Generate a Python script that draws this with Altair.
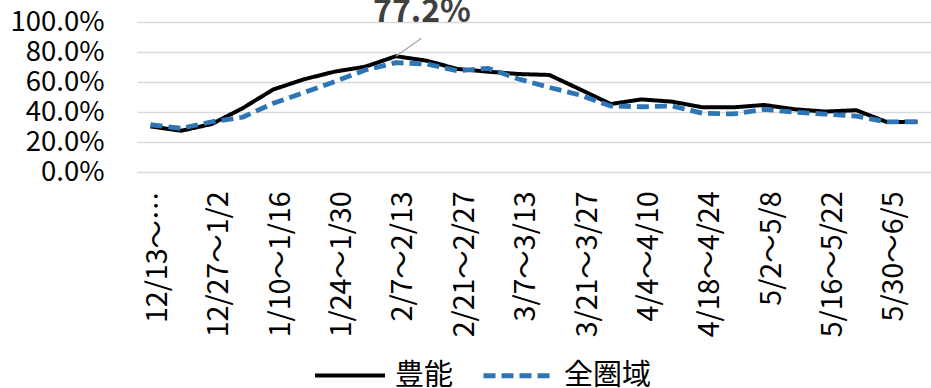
import altair as alt
import pandas as pd

FONT = "Noto Sans CJK JP"

# Tick labels (every other week)
week_ticks = [
    "12/13～…", "12/27～1/2", "1/10～1/16", "1/24～1/30", "2/7～2/13",
    "2/21～2/27", "3/7～3/13", "3/21～3/27", "4/4～4/10", "4/18～4/24",
    "5/2～5/8", "5/16～5/22", "5/30～6/5",
]
rate_ticks = [0.0, 0.2, 0.4, 0.6, 0.8, 1.0]

series_names = ["豊能", "全圏域"]

# Weekly rates, one value per week starting 12/13
toyono = [0.304, 0.275, 0.320, 0.425, 0.550, 0.618, 0.669, 0.702, 0.772, 0.742,
          0.687, 0.669, 0.653, 0.647, 0.551, 0.453, 0.484, 0.469, 0.431, 0.431,
          0.447, 0.418, 0.403, 0.412, 0.333, 0.335]
zenken = [0.315, 0.291, 0.335, 0.365, 0.458, 0.529, 0.602, 0.680, 0.729, 0.720,
          0.675, 0.691, 0.620, 0.564, 0.513, 0.440, 0.435, 0.440, 0.391, 0.387,
          0.418, 0.398, 0.386, 0.373, 0.334, 0.334]

n = len(toyono)
df = pd.DataFrame({
    "week": list(range(n)) * 2,
    "rate": toyono + zenken,
    "area": [series_names[0]] * n + [series_names[1]] * n,
})

peak = toyono.index(max(toyono))
df_peak = pd.DataFrame({"week": [peak], "rate": [toyono[peak]]})

label_array = "[" + ",".join("'" + t + "'" for t in week_ticks) + "]"

x_scale = alt.Scale(domain=[-0.44, n - 1 + 0.44], nice=False, zero=False)
y_scale = alt.Scale(domain=[0, 1], nice=False)

x_axis = alt.Axis(
    values=list(range(0, n, 2)), tickCount=len(week_ticks),
    labelExpr=label_array + "[round(datum.value / 2)]",
    labelAngle=270, labelAlign="right", labelBaseline="middle",
    labelPadding=19, labelOffset=7, labelOverlap=False, labelFlush=False,
    labelFont=FONT, labelFontSize=28.5, labelColor="#000000", labelLimit=400,
    domain=False, ticks=False, grid=False, title=None,
)
# tickCount must cover every value, otherwise Vega thins the explicit ticks
y_axis = alt.Axis(
    values=rate_ticks, tickCount=len(rate_ticks), format=".1%",
    labelFont=FONT, labelFontSize=27.5, labelColor="#000000", labelPadding=33,
    labelOverlap=False, labelFlush=False, labelBound=False,
    domain=False, ticks=False, grid=True, gridColor="#D9D9D9", gridWidth=1.5,
    title=None,
)

legend = alt.Legend(
    title=None, orient="none", legendX=176, legendY=316, direction="horizontal",
    symbolType="stroke", symbolSize=4900, symbolStrokeWidth=4.5,
    labelFont=FONT, labelFontSize=29, labelColor="#000000", labelOffset=8,
    columnPadding=19, labelLimit=300,
)

x_enc = alt.X("week:Q", scale=x_scale, axis=x_axis)
y_enc = alt.Y("rate:Q", scale=y_scale, axis=y_axis)

lines = alt.Chart(df).mark_line(strokeJoin="round").encode(
    x=x_enc,
    y=y_enc,
    color=alt.Color("area:N", sort=series_names,
                    scale=alt.Scale(domain=series_names, range=["#000000", "#2E75B6"]),
                    legend=legend),
    strokeDash=alt.StrokeDash("area:N", sort=series_names,
                              scale=alt.Scale(domain=series_names, range=[[1, 0], [12, 6]]),
                              legend=legend),
    strokeWidth=alt.StrokeWidth("area:N",
                                scale=alt.Scale(domain=series_names, range=[4, 4.8]),
                                legend=None),
)

leader = alt.Chart(df_peak).mark_rule(
    color="#A6A6A6", strokeWidth=1.3, x2Offset=25.5, y2Offset=-18
).encode(
    x=x_enc, x2="week:Q",
    y=y_enc, y2="rate:Q",
)

peak_label = alt.Chart(df_peak).mark_text(
    font=FONT, fontSize=32, fontWeight="bold", color="#404040",
    align="center", baseline="alphabetic", dx=26, dy=-34,
).encode(
    x=x_enc,
    y=y_enc,
    text=alt.Text("rate:Q", format=".1%"),
)

chart = alt.layer(lines, leader, peak_label).properties(
    width=794, height=150,
    padding={"left": 137, "top": 22, "right": 0, "bottom": 216},
    autosize=alt.AutoSizeParams(type="none"),
).configure_view(stroke=None)

chart.save("out.html", embed_options={"renderer": "svg", "actions": False})
